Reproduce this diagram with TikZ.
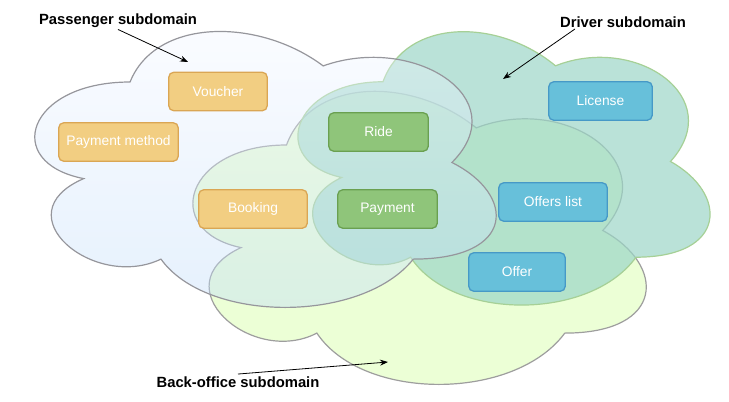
\documentclass[tikz,border=0pt]{standalone}
\usepackage{fontspec}
\setmainfont{Liberation Sans}
\usetikzlibrary{arrows.meta}

\definecolor{paxline}{RGB}{150,150,156}
\definecolor{paxtop}{RGB}{245,248,255}
\definecolor{paxbot}{RGB}{187,217,250}
\definecolor{drvfill}{RGB}{156,214,199}
\definecolor{drvline}{RGB}{166,208,150}
\definecolor{bofill}{RGB}{236,255,214}
\definecolor{boline}{RGB}{158,158,158}
\definecolor{orfill}{RGB}{242,206,130}
\definecolor{orline}{RGB}{218,166,84}
\definecolor{grfill}{RGB}{143,197,122}
\definecolor{grline}{RGB}{106,160,80}
\definecolor{blfill}{RGB}{103,192,218}
\definecolor{blline}{RGB}{70,153,199}

% cloud outline: left, top, width, height
\newcommand\cloudat[4]{%
  ({#1+.25*#3},{#2+.25*#4})
  .. controls ({#1+.05*#3},{#2+.25*#4}) and ({#1},{#2+.5*#4}) .. ({#1+.16*#3},{#2+.55*#4})
  .. controls ({#1},{#2+.66*#4}) and ({#1+.18*#3},{#2+.9*#4}) .. ({#1+.31*#3},{#2+.8*#4})
  .. controls ({#1+.4*#3},{#2+#4}) and ({#1+.7*#3},{#2+#4}) .. ({#1+.8*#3},{#2+.8*#4})
  .. controls ({#1+#3},{#2+.8*#4}) and ({#1+#3},{#2+.6*#4}) .. ({#1+.875*#3},{#2+.5*#4})
  .. controls ({#1+#3},{#2+.3*#4}) and ({#1+.8*#3},{#2+.1*#4}) .. ({#1+.625*#3},{#2+.2*#4})
  .. controls ({#1+.5*#3},{#2+.05*#4}) and ({#1+.3*#3},{#2+.05*#4}) .. ({#1+.25*#3},{#2+.25*#4})
  -- cycle}

\tikzset{
  entity/.style={rounded corners=5pt, line width=1.3pt, text=white,
    font=\fontsize{13.8}{16}\selectfont, minimum height=38.5pt, inner sep=0pt},
  pax/.style={entity, fill=orfill, draw=orline},
  shared/.style={entity, fill=grfill, draw=grline},
  drv/.style={entity, fill=blfill, draw=blline},
  tag/.style={font=\bfseries\fontsize{14.8}{17}\selectfont},
  ptr/.style={-{Stealth[length=8pt,width=6pt]}, line width=0.8pt},
}

\begin{document}
\begin{tikzpicture}[x=1pt,y=-1pt]
  \useasboundingbox (0,0) rectangle (729,402);
  %
  \draw[boline, fill=bofill, line width=1.2pt] \cloudat{160}{59.5}{506}{342};
  \draw[drvline, fill=drvfill, fill opacity=0.7, line width=1.2pt] \cloudat{268}{2}{460}{319};
  \shade[top color=paxtop, bottom color=paxbot, opacity=0.4] \cloudat{1.3}{1.5}{515}{322};
  \draw[paxline, line width=1.2pt] \cloudat{1.3}{1.5}{515}{322};
  %
  \node[pax, minimum width=98.5pt] (voucher) at (218,91.5) {Voucher};
  \node[pax, minimum width=119.5pt] (paymethod) at (118.5,142) {Payment method};
  \node[pax, minimum width=108.5pt] (booking) at (253,209) {Booking};
  \node[shared, minimum width=99.5pt] (ride) at (378.5,132) {Ride};
  \node[shared, minimum width=99.5pt] (payment) at (387.5,209) {Payment};
  \node[drv, minimum width=103.5pt] (license) at (600.5,101) {License};
  \node[drv, minimum width=108.5pt] (offerslist) at (553,202) {Offers list};
  \node[drv, minimum width=96.5pt] (offer) at (517,272) {Offer};
  %
  \node[tag] (paxtag) at (118,21) {Passenger subdomain};
  \node[tag] (drvtag) at (623,22) {Driver subdomain};
  \node[tag] (botag) at (238,382) {Back-office subdomain};
  \coordinate (paxhead) at (188,62);
  \coordinate (drvhead) at (503,79);
  \coordinate (bohead) at (388,362);
  %
  \draw[ptr] ([yshift=2pt]paxtag.south) -- (paxhead);
  \draw[ptr] ([xshift=-48pt,yshift=2pt]drvtag.south) -- (drvhead);
  \draw[ptr] ([yshift=-1pt]botag.north) -- (bohead);
\end{tikzpicture}
\end{document}
